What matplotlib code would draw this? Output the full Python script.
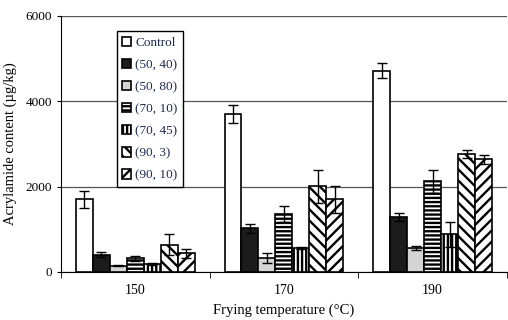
import numpy as np
import matplotlib
matplotlib.use('Agg')
import matplotlib.pyplot as plt

temps = ["150", "170", "190"]
series = ["Control", "(50, 40)", "(50, 80)", "(70, 10)", "(70, 45)", "(90, 3)", "(90, 10)"]

values = {
    "Control":  [1700, 3700, 4720],
    "(50, 40)": [400, 1020, 1290],
    "(50, 80)": [150, 330, 560],
    "(70, 10)": [320, 1360, 2130],
    "(70, 45)": [180, 560, 880],
    "(90, 3)":  [640, 2010, 2770],
    "(90, 10)": [440, 1700, 2640],
}
errors = {
    "Control":  [190, 210, 170],
    "(50, 40)": [60, 100, 100],
    "(50, 80)": [20, 120, 50],
    "(70, 10)": [60, 190, 270],
    "(70, 45)": [20, 20, 300],
    "(90, 3)":  [240, 390, 100],
    "(90, 10)": [110, 310, 100],
}

faces = ["white", "#1c1c1c", "#d4d4d4", "white", "white", "white", "white"]
hatches = [None, None, None, "----", "||||", "\\\\\\", "///"]

plt.rcParams['font.family'] = ['Liberation Serif', 'DejaVu Serif']
plt.rcParams['hatch.linewidth'] = 1.7

fig = plt.figure(figsize=(5.08, 3.2), dpi=100)
ax = fig.add_axes([0.12, 0.15, 0.878, 0.80])

x = np.arange(len(temps))
n = len(series)
w = 0.8 / n
for i, s in enumerate(series):
    pos = x - 0.4 + w * (i + 0.5)
    ax.bar(pos, values[s], w, color=faces[i], edgecolor='black', linewidth=1.2,
           hatch=hatches[i], label=s, zorder=3)
    ax.errorbar(pos, values[s], yerr=errors[s], fmt='none', ecolor='black',
                elinewidth=1, capsize=3.5, capthick=1, zorder=4)

ax.set_xlim(-0.5, 2.5)
ax.set_ylim(0, 6000)
ax.set_yticks([0, 2000, 4000, 6000])
ax.yaxis.grid(True, color='#555555', linewidth=0.9, zorder=0)
ax.set_xticks(x)
ax.set_xticklabels(temps)
ax.set_xticks([-0.5, 0.5, 1.5, 2.5], minor=True)
ax.tick_params(axis='x', which='major', length=0, labelsize=10, pad=9)
ax.tick_params(axis='x', which='minor', length=4, direction='out')
ax.tick_params(axis='y', length=3, labelsize=9.5)
for sp in ['top', 'right']:
    ax.spines[sp].set_visible(False)

ax.set_xlabel("Frying temperature (°C)", fontsize=10.5, labelpad=4)
ax.set_ylabel("Acrylamide content (µg/kg)", fontsize=10.5, labelpad=6)

leg = ax.legend(loc='upper left', bbox_to_anchor=(0.125, 0.94), fontsize=9.5,
                frameon=True, fancybox=False, edgecolor='black', framealpha=1,
                handlelength=0.7, handleheight=0.7, handletextpad=0.3,
                labelspacing=0.75, borderpad=0.4, borderaxespad=0)
leg.get_frame().set_linewidth(1)
for t in leg.get_texts():
    t.set_color('#1f2a50')

fig.savefig("out.png", dpi=100)
